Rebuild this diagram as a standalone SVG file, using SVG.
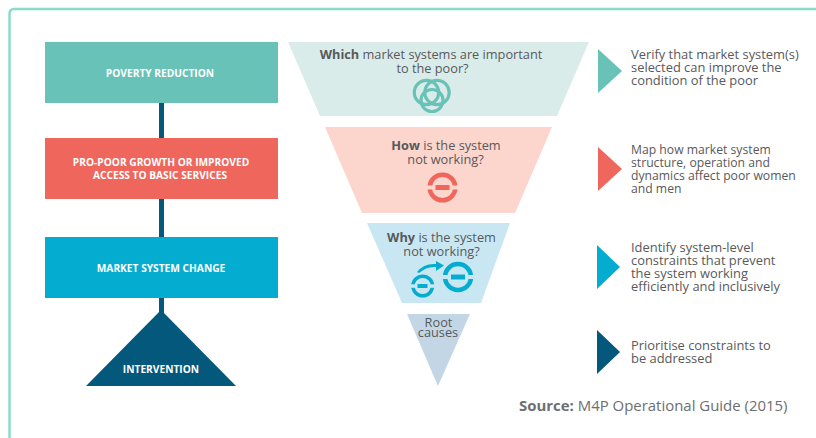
<svg xmlns="http://www.w3.org/2000/svg" width="816" height="438" viewBox="0 0 816 438">
<style>
.n{font-family:"Open Sans","Noto Sans",sans-serif;font-size:12.750px;fill:#58595b;text-anchor:middle}
.b{font-weight:700}
.s{font-family:"Open Sans","Noto Sans",sans-serif;font-size:12.900px;fill:#58595b}
.t{font-size:12.200px}
.w{font-family:"Open Sans","Noto Sans",sans-serif;font-size:10.200px;font-weight:700;fill:#fff;text-anchor:middle}
</style>
<defs><clipPath id="c"><rect x="600" y="40" width="200" height="60"/></clipPath></defs>
<rect x="0" y="0" width="816" height="438" fill="#fff"/>
<path d="M816 9H14Q9.500 9 9.500 14V438" fill="none" stroke="#8adcc8" stroke-width="2.500"/>
<g id="connectors"><rect x="159" y="103" width="5" height="210" fill="#03587c"/></g>
<g id="poverty"><rect x="45" y="42" width="233" height="61" fill="#69c2b8"/><text class="w" x="160" y="77">POVERTY REDUCTION</text></g>
<g id="growth"><rect x="45" y="138" width="233" height="61" fill="#ee665c"/><text class="w" x="161" y="166">PRO-POOR GROWTH OR IMPROVED</text><text class="w" x="160" y="179">ACCESS TO BASIC SERVICES</text></g>
<g id="market"><rect x="45" y="237" width="233" height="61" fill="#04add0"/><text class="w" x="161" y="271.500">MARKET SYSTEM CHANGE</text></g>
<g id="intervention"><polygon points="161,310 236,386 86,386" fill="#03587c"/><text class="w" x="161" y="372.500">INTERVENTION</text></g>
<g id="which"><polygon points="288,42 589,42 557,116 320,116" fill="#daece9"/>
<text class="n" x="431" y="59"><tspan class="b">Which</tspan> market systems are important</text><text class="n" x="432.500" y="73">to the poor?</text>
<g fill="none" stroke="#69c2b8" stroke-width="3.200"><circle cx="426.500" cy="92.500" r="12.200"/><circle cx="437" cy="92.500" r="12.200"/><circle cx="432" cy="100.500" r="11"/></g></g>
<g id="how"><polygon points="325,127 552,127 515,213 362,213" fill="#fcd5cc"/>
<text class="n" x="446" y="150"><tspan class="b">How</tspan> is the system</text><text class="n" x="445.500" y="164">not working?</text>
<circle cx="442.500" cy="187.500" r="12.800" fill="none" stroke="#ee665c" stroke-width="4.500"/><rect x="425" y="185.500" width="35" height="4" fill="#fcd5cc"/><rect x="435.500" y="185" width="14" height="5" fill="#ee665c"/></g>
<g id="why"><polygon points="367,223 510,223 481,303 402,303" fill="#c8e7f2"/>
<text class="n" x="441.500" y="242"><tspan class="b">Why</tspan> is the system</text><text class="n" x="441.500" y="256">not working?</text>
<circle cx="422.700" cy="286" r="9.800" fill="none" stroke="#04add0" stroke-width="3.500"/><rect x="409" y="284.300" width="28" height="3.500" fill="#c8e7f2"/><rect x="417.500" y="284" width="10" height="4" fill="#04add0"/>
<circle cx="458" cy="277" r="13" fill="none" stroke="#04add0" stroke-width="4.500"/><rect x="441" y="275" width="34" height="4" fill="#c8e7f2"/><rect x="451" y="274.500" width="14" height="5" fill="#04add0"/>
<path d="M417 272q7-9 19-8v-3l8 4.500-8 5.500v-4q-9-1-17 6Z" fill="#04add0"/></g>
<g id="root"><polygon points="407,314 470,314 438,386" fill="#c3d6e5"/><text class="n" x="438.500" y="327">Root</text><text class="n" x="438" y="337">causes</text></g>
<g id="step1"><polygon points="598,49 622,71 598,93" fill="#69c2b8"/><text class="s" x="631" y="59" clip-path="url(#c)">Verify that market system(s)</text><text class="s" x="631" y="72">selected can improve the</text><text class="s" x="631" y="85">condition of the poor</text></g>
<g id="step2"><polygon points="598,147 622,169 598,191" fill="#ee665c"/><text class="s t" x="631" y="154">Map how market system</text><text class="s t" x="631" y="167">structure, operation and</text><text class="s t" x="631" y="180">dynamics affect poor women</text><text class="s t" x="631" y="193">and men</text></g>
<g id="step3"><polygon points="597,245 620,267 597,289" fill="#04add0"/><text class="s" x="631" y="252">Identify system-level</text><text class="s" x="631" y="265">constraints that prevent</text><text class="s" x="631" y="278">the system working</text><text class="s" x="631" y="291">efficiently and inclusively</text></g>
<g id="step4"><polygon points="597,330 620,352 597,374" fill="#03587c"/><text class="s" x="631" y="349.500">Prioritise constraints to</text><text class="s" x="631" y="362.500">be addressed</text></g>
<text x="519" y="410.500" font-family="Open Sans,Noto Sans,sans-serif" font-size="14.950" fill="#6d6e71"><tspan font-weight="700">Source:</tspan> M4P Operational Guide (2015)</text>
</svg>
